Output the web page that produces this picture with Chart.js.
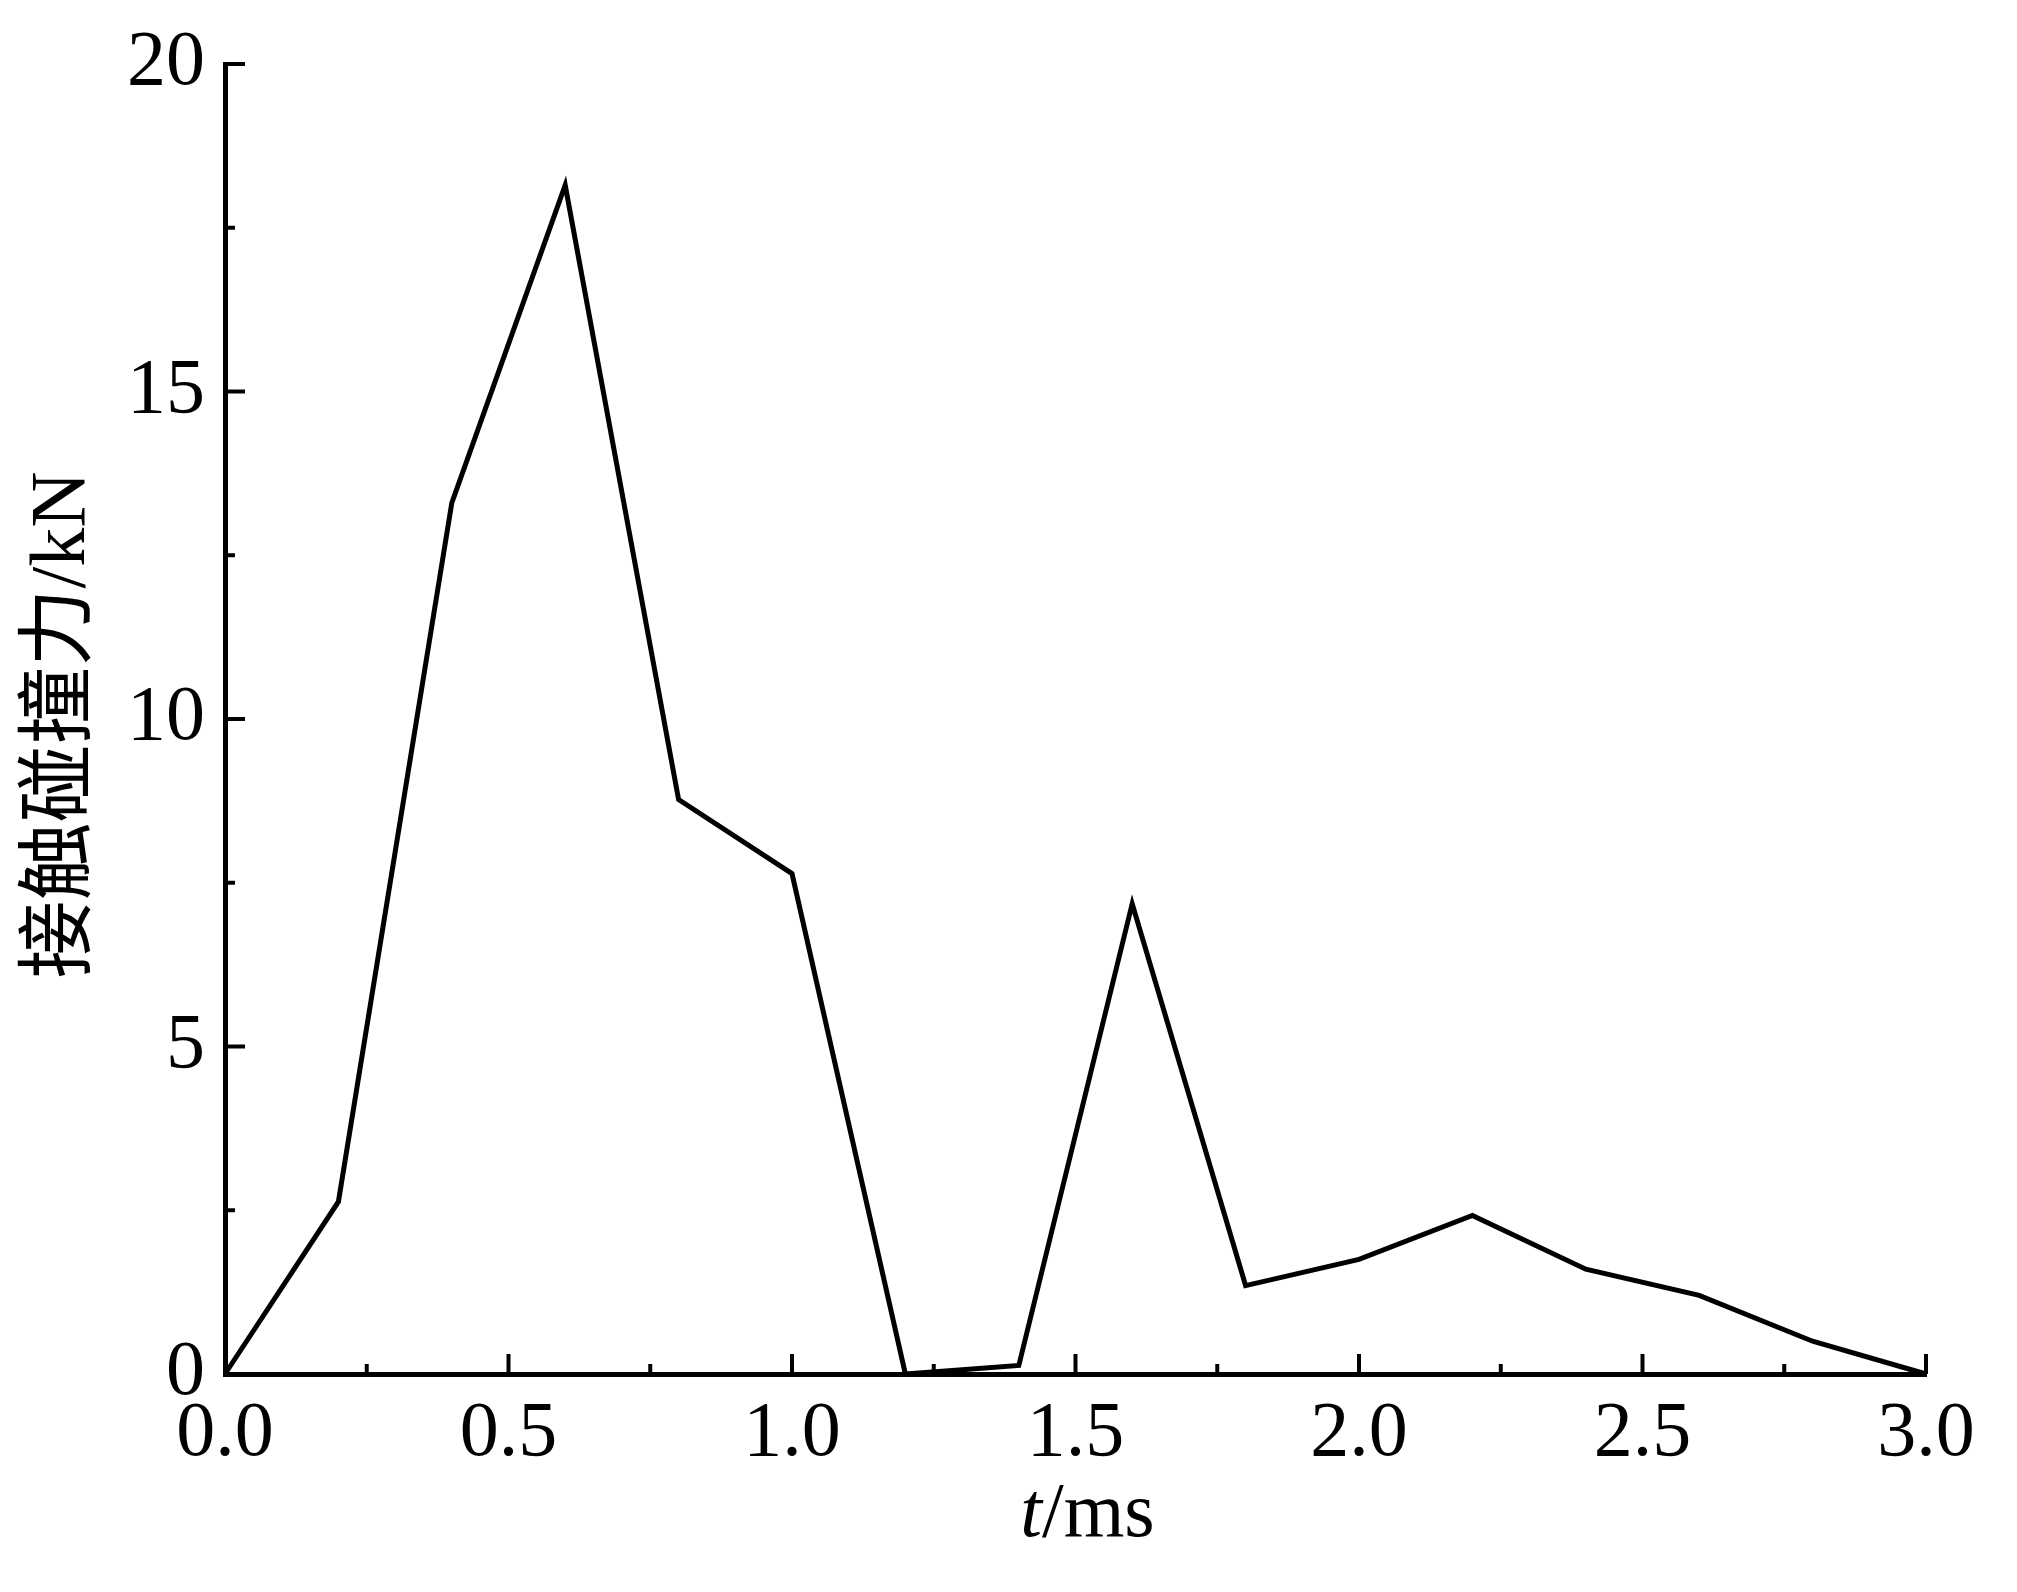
<!DOCTYPE html>
<html>
<head>
<meta charset="utf-8">
<script src="https://cdn.jsdelivr.net/npm/chart.js@4"></script>
<style>
    body { margin: 0; background: #fff; }
    #wrap { width: 2017px; height: 1592px; }
</style>
</head>
<body>
<div id="wrap"><canvas id="forceChart"></canvas></div>
<script>
// data: time (ms) vs contact force (kN)
const times = [0.0, 0.2, 0.4, 0.6, 0.8, 1.0, 1.2, 1.4, 1.6, 1.8, 2.0, 2.2, 2.4, 2.6, 2.8, 3.0];
const force = [0, 2.63, 13.3, 18.15, 8.77, 7.64, 0, 0.13, 7.18, 1.35, 1.75, 2.42, 1.6, 1.2, 0.5, 0];
const xTicks = [0.0, 0.5, 1.0, 1.5, 2.0, 2.5, 3.0];
const yTicks = [0, 5, 10, 15, 20];
const yTitle = '接触碰撞力/kN';

const serif = '"Liberation Serif", "Times New Roman", "Noto Sans CJK SC", serif';

// inward major/minor ticks + axis titles
const axisDecor = {
    id: 'axisDecor',
    afterDraw(chart) {
        const ctx = chart.ctx;
        const xs = chart.scales.x, ys = chart.scales.y;
        const area = chart.chartArea;
        ctx.save();
        ctx.strokeStyle = '#000';
        ctx.lineWidth = 4;
        ctx.lineCap = 'butt';
        for (let i = 0; i < xTicks.length * 2 - 1; i++) {
            const v = xTicks[0] + i * (xTicks[1] - xTicks[0]) / 2;
            const px = xs.getPixelForValue(v);
            const len = i % 2 === 0 ? 20 : 10;
            ctx.beginPath();
            ctx.moveTo(px, area.bottom);
            ctx.lineTo(px, area.bottom - len);
            ctx.stroke();
        }
        for (let i = 0; i < yTicks.length * 2 - 1; i++) {
            const v = yTicks[0] + i * (yTicks[1] - yTicks[0]) / 2;
            const py = ys.getPixelForValue(v);
            const len = i % 2 === 0 ? 20 : 10;
            ctx.beginPath();
            ctx.moveTo(area.left, py);
            ctx.lineTo(area.left + len, py);
            ctx.stroke();
        }

        // x title: italic t + /ms
        ctx.fillStyle = '#000';
        ctx.textBaseline = 'alphabetic';
        const fs = 78;
        ctx.font = 'italic ' + fs + 'px ' + serif;
        const w1 = ctx.measureText('t').width;
        ctx.font = fs + 'px ' + serif;
        const w2 = ctx.measureText('/ms').width;
        const cx = (area.left + area.right) / 2 + 12;
        let sx = cx - (w1 + w2) / 2;
        ctx.font = 'italic ' + fs + 'px ' + serif;
        ctx.textAlign = 'left';
        ctx.fillText('t', sx, 1536);
        ctx.font = fs + 'px ' + serif;
        ctx.fillText('/ms', sx + w1, 1536);

        // y title, rotated
        ctx.translate(64, (area.top + area.bottom) / 2 + 6);
        ctx.rotate(-Math.PI / 2);
        ctx.textAlign = 'center';
        ctx.textBaseline = 'middle';
        ctx.font = fs + 'px ' + serif;
        ctx.fillText(yTitle, 0, 0);
        ctx.restore();
    }
};

const ctx = document.getElementById('forceChart').getContext('2d');
const forceChart = new Chart(ctx, {
    type: 'line',
    data: {
        datasets: [{
            data: times.map((t, i) => ({ x: t, y: force[i] })),
            borderColor: '#000',
            borderWidth: 5,
            pointRadius: 0,
            tension: 0,
            fill: false,
            clip: 5
        }]
    },
    options: {
        responsive: true,
        maintainAspectRatio: false,
        animation: false,
        layout: { padding: { top: 64, right: 91, left: 0, bottom: 0 } },
        plugins: {
            legend: { display: false },
            tooltip: { enabled: false }
        },
        scales: {
            x: {
                type: 'linear',
                min: 0,
                max: 3,
                afterFit: function(scale) { scale.height = 218; },
                afterBuildTicks: function(scale) { scale.ticks = xTicks.map(v => ({ value: v })); },
                ticks: {
                    callback: v => v.toFixed(1),
                    color: '#000',
                    font: { family: serif, size: 78 },
                    padding: 6,
                    maxRotation: 0,
                    autoSkip: false
                },
                grid: { display: false },
                border: { display: true, color: '#000', width: 5 }
            },
            y: {
                min: 0,
                max: 20,
                afterFit: function(scale) { scale.width = 225; },
                afterBuildTicks: function(scale) { scale.ticks = yTicks.map(v => ({ value: v })); },
                ticks: {
                    color: '#000',
                    font: { family: serif, size: 78 },
                    padding: 12
                },
                grid: { display: false },
                border: { display: true, color: '#000', width: 5 }
            }
        }
    },
    plugins: [axisDecor]
});
</script>
</body>
</html>
